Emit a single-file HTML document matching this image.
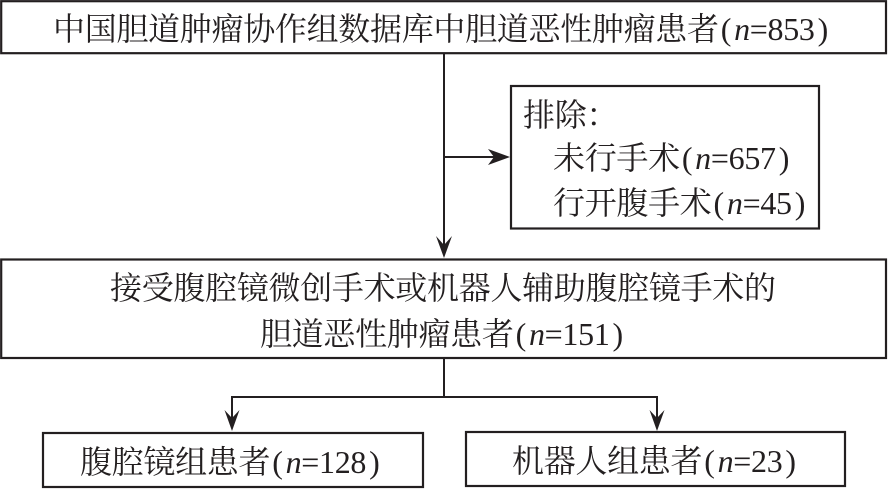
<!DOCTYPE html>
<html><head><meta charset="utf-8">
<style>
html,body{margin:0;padding:0;background:#fff;}
svg{display:block;}
text{font-family:"Liberation Serif","Noto Serif CJK SC",serif;font-size:32px;fill:#231f20;letter-spacing:-0.3px;}
.i{font-style:italic;}
</style></head>
<body>
<svg width="888" height="489" viewBox="0 0 888 489" xmlns="http://www.w3.org/2000/svg">
<g fill="none" stroke="#231f20" stroke-width="2.2">
  <rect x="1.2" y="1.2" width="884.8" height="52"/>
  <rect x="511" y="86" width="308" height="142.5"/>
  <rect x="1.2" y="259.5" width="884.8" height="98.5"/>
  <rect x="43" y="433" width="380" height="54"/>
  <rect x="466" y="432" width="379" height="54"/>
</g>
<g stroke="#231f20" stroke-width="2" fill="none">
  <line x1="444" y1="53" x2="444" y2="250"/>
  <line x1="444" y1="157" x2="502" y2="157"/>
  <line x1="444" y1="358" x2="444" y2="397"/>
  <line x1="232" y1="397" x2="657" y2="397"/>
  <line x1="232" y1="396" x2="232" y2="422"/>
  <line x1="657" y1="396" x2="657" y2="422"/>
</g>
<g fill="#231f20">
  <polygon points="444,258 436,236 444,245 452,236"/>
  <polygon points="510,157 488,149 494,157 488,165"/>
  <polygon points="232,431 224.5,410 232,418 239.5,410"/>
  <polygon points="657,431 649.5,410 657,418 664.5,410"/>
</g>
<text x="53" y="40">中国胆道肿瘤协作组数据库中胆道恶性肿瘤患者<tspan dx="2">(</tspan><tspan class="i" dx="3">n</tspan>=853<tspan dx="3">)</tspan></text>
<text x="523" y="126">排除：</text>
<text x="553" y="169">未行手术<tspan dx="2">(</tspan><tspan class="i" dx="3">n</tspan>=657<tspan dx="3">)</tspan></text>
<text x="553" y="214">行开腹手术<tspan dx="2">(</tspan><tspan class="i" dx="3">n</tspan>=45<tspan dx="3">)</tspan></text>
<text x="110" y="299">接受腹腔镜微创手术或机器人辅助腹腔镜手术的</text>
<text x="260" y="345">胆道恶性肿瘤患者<tspan dx="2">(</tspan><tspan class="i" dx="3">n</tspan>=151<tspan dx="3">)</tspan></text>
<text x="80" y="473">腹腔镜组患者<tspan dx="2">(</tspan><tspan class="i" dx="3">n</tspan>=128<tspan dx="3">)</tspan></text>
<text x="512" y="472">机器人组患者<tspan dx="2">(</tspan><tspan class="i" dx="3">n</tspan>=23<tspan dx="3">)</tspan></text>
</svg>
</body></html>
